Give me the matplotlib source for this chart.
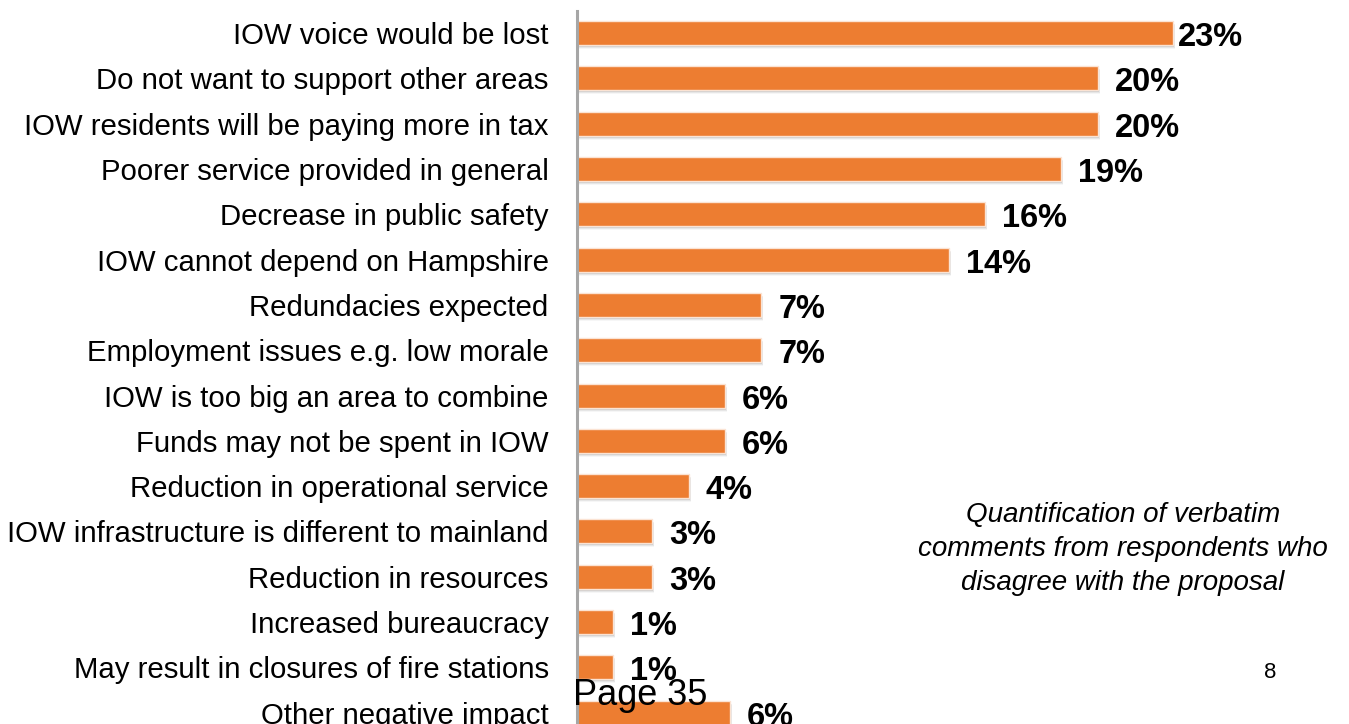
import matplotlib
matplotlib.use("Agg")
import matplotlib.pyplot as plt
from matplotlib.transforms import ScaledTranslation

plt.rcParams['font.family'] = ['Liberation Sans', 'DejaVu Sans']

# Reasons given by respondents who disagree (share of comments, %)
categories = [
    "IOW voice would be lost",
    "Do not want to support other areas",
    "IOW residents will be paying more in tax",
    "Poorer service provided in general",
    "Decrease in public safety",
    "IOW cannot depend on Hampshire",
    "Redundacies expected",
    "Employment issues e.g. low morale",
    "IOW is too big an area to combine",
    "Funds may not be spent in IOW",
    "Reduction in operational service",
    "IOW infrastructure is different to mainland",
    "Reduction in resources",
    "Increased bureaucracy",
    "May result in closures of fire stations",
    "Other negative impact",
]
values = [22.9, 20.0, 20.0, 18.6, 15.7, 14.3, 7.1, 7.1, 5.7, 5.7,
          4.3, 2.9, 2.9, 1.4, 1.4, 5.9]
note = "Quantification of verbatim\ncomments from respondents who\ndisagree with the proposal"
page_label = "Page 35"
slide_number = "8"

W, H, DPI = 1349, 724, 100
fig = plt.figure(figsize=(W / DPI, H / DPI), dpi=DPI)

# axes placed in pixel terms: bars start at x=576.5, 26.05 px per percent
x0_px = 576.5
px_per_unit = 26.05
xmax = 29
top_px, bot_px = 11.0, 735.2
ax = fig.add_axes([x0_px / W, (H - bot_px) / H,
                   xmax * px_per_unit / W, (bot_px - top_px) / H])

orange = "#ED7D31"
y = list(range(len(categories)))
bar_h = 0.53

# soft drop shadow under each bar
for dx, dy, a in [(1, -1, 0.22), (1, -2, 0.16), (2, -3, 0.10), (2, -4, 0.05)]:
    shadow = ax.barh(y, values, height=bar_h, color="#606060", alpha=a,
                     linewidth=0, zorder=1)
    off = ScaledTranslation(dx / DPI, dy / DPI, fig.dpi_scale_trans)
    for p in shadow.patches:
        p.set_transform(ax.transData + off)

ax.barh(y, values, height=bar_h, color=orange, edgecolor="#FBE3D3",
        linewidth=1.0, zorder=2)

ax.set_xlim(0, xmax)
ax.set_ylim(15.5, -0.49)

for s in ["top", "right", "bottom"]:
    ax.spines[s].set_visible(False)
ax.spines["left"].set_color("#A6A6A6")
ax.spines["left"].set_linewidth(2.2)
ax.spines["left"].set_zorder(3)

ax.set_xticks([])
ax.set_yticks(y)
ax.set_yticklabels(categories, fontsize=21.2, color="#000000")
ax.tick_params(axis="y", length=0, pad=20)

vmax = max(values)
for yi, v in zip(y, values):
    gap = 5 if v == vmax else 17
    off = ScaledTranslation(gap / DPI, -4.5 / DPI, fig.dpi_scale_trans)
    ax.text(v, yi, f"{v:.0f}%", fontsize=23.5, fontweight="bold",
            ha="left", va="center", color="#000000",
            transform=ax.transData + off, zorder=4, clip_on=False)

fig.text(1123 / W, 1 - 549 / H, note, fontsize=20, style="italic",
         ha="center", va="center", linespacing=1.4, color="#000000")
fig.text(1270 / W, 1 - 672 / H, slide_number, fontsize=16,
         ha="center", va="center", color="#000000")
fig.text(573 / W, 1 - 705 / H, page_label, fontsize=26,
         ha="left", va="baseline", color="#000000", zorder=10)

fig.savefig("out.png", dpi=DPI)
